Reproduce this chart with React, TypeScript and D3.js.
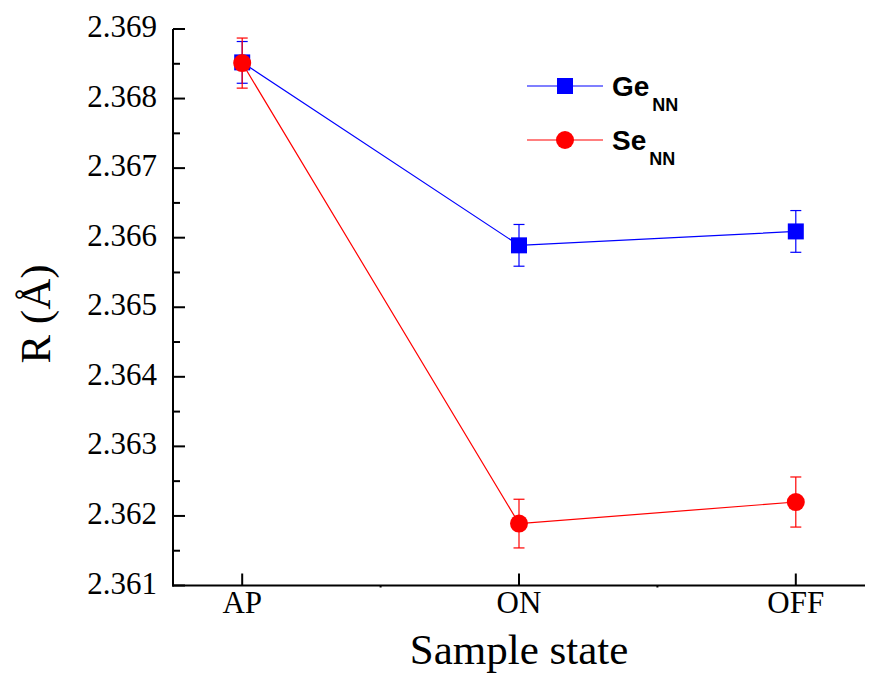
import React from "react";
import * as d3 from "d3";

const categories = ["AP", "ON", "OFF"];
const geValues = [2.36852, 2.36589, 2.36609];
const geErrors = [0.0003, 0.0003, 0.0003];
const seValues = [2.36851, 2.36189, 2.3622];
const seErrors = [0.00036, 0.00035, 0.00036];
const yTicks = [2.361, 2.362, 2.363, 2.364, 2.365, 2.366, 2.367, 2.368, 2.369];
const yMinorTicks = [2.3615, 2.3625, 2.3635, 2.3645, 2.3655, 2.3665, 2.3675, 2.3685];
const xMinorTicks = [0.5, 1.5];

const W = 869;
const H = 682;
const left = 173;
const right = 865;
const top = 29;
const bottom = 585.5;

const serif = "'Liberation Serif', 'Times New Roman', serif";
const sans = "'Liberation Sans', Arial, sans-serif";

export default function App() {
  const x = d3.scaleLinear().domain([-0.25, 2.25]).range([left, right]);
  const y = d3.scaleLinear().domain([2.361, 2.369]).range([bottom, top]);
  const line = d3
    .line<number>()
    .x((_, i) => x(i))
    .y((d) => y(d));

  const series = [
    { name: "Ge", values: geValues, errors: geErrors, color: "#0000ff", shape: "square" },
    { name: "Se", values: seValues, errors: seErrors, color: "#ff0000", shape: "circle" },
  ];

  const marker = (shape: string, cx: number, cy: number, color: string, key?: string) =>
    shape === "square" ? (
      <rect key={key} x={cx - 8} y={cy - 8} width={16} height={16} fill={color} />
    ) : (
      <circle key={key} cx={cx} cy={cy} r={9} fill={color} />
    );

  return (
    <svg
      width={W}
      height={H}
      style={{ position: "absolute", left: 0, top: 0, background: "#fff" }}
    >
      {/* series lines and error bars */}
      {series.map((s) => (
        <g key={s.name}>
          <path d={line(s.values) || ""} fill="none" stroke={s.color} strokeWidth={1.2} />
          {s.values.map((v, i) => {
            const cx = x(i);
            const y1 = y(v + s.errors[i]);
            const y2 = y(v - s.errors[i]);
            return (
              <g key={i} stroke={s.color} strokeWidth={1.2}>
                <line x1={cx} x2={cx} y1={y1} y2={y2} />
                <line x1={cx - 5.5} x2={cx + 5.5} y1={y1} y2={y1} />
                <line x1={cx - 5.5} x2={cx + 5.5} y1={y2} y2={y2} />
              </g>
            );
          })}
        </g>
      ))}
      {series.map((s) =>
        s.values.map((v, i) => marker(s.shape, x(i), y(v), s.color, s.name + i))
      )}

      {/* axes */}
      <g stroke="#000" strokeWidth={2}>
        <line x1={left} x2={left} y1={top} y2={bottom + 1} />
        <line x1={left - 1} x2={right} y1={bottom} y2={bottom} />
        {yTicks.map((t) => (
          <line key={t} x1={left} x2={left + 12} y1={y(t)} y2={y(t)} />
        ))}
        {yMinorTicks.map((t) => (
          <line key={t} x1={left} x2={left + 7} y1={y(t)} y2={y(t)} />
        ))}
        {categories.map((c, i) => (
          <line key={c} x1={x(i)} x2={x(i)} y1={bottom} y2={bottom - 12} />
        ))}
        {xMinorTicks.map((t) => (
          <line key={t} x1={x(t)} x2={x(t)} y1={bottom} y2={bottom + 2} />
        ))}
      </g>

      {/* tick labels */}
      <g fontFamily={serif} fontSize={31} fill="#000">
        {yTicks.map((t) => (
          <text key={t} x={157} y={y(t) + 8} textAnchor="end">
            {d3.format(".3f")(t)}
          </text>
        ))}
        {categories.map((c, i) => (
          <text key={c} x={x(i)} y={613} textAnchor="middle">
            {c}
          </text>
        ))}
      </g>

      {/* axis titles */}
      <text
        x={(left + right) / 2}
        y={664}
        textAnchor="middle"
        fontFamily={serif}
        fontSize={43}
        fill="#000"
      >
        Sample state
      </text>
      <text
        transform={`translate(50, 314) rotate(-90)`}
        textAnchor="middle"
        fontFamily={serif}
        fontSize={43}
        fill="#000"
      >
        R (Å)
      </text>

      {/* legend */}
      {series.map((s, i) => {
        const ly = 86 + i * 54;
        return (
          <g key={s.name}>
            <line x1={527} x2={603} y1={ly} y2={ly} stroke={s.color} strokeWidth={1.2} />
            {marker(s.shape, 565, ly, s.color)}
            <text x={612} y={ly + 10} fontFamily={sans} fontWeight="bold" fontSize={28} fill="#000">
              {s.name}
              <tspan dx={3} dy={15} fontSize={18}>
                NN
              </tspan>
            </text>
          </g>
        );
      })}
    </svg>
  );
}
